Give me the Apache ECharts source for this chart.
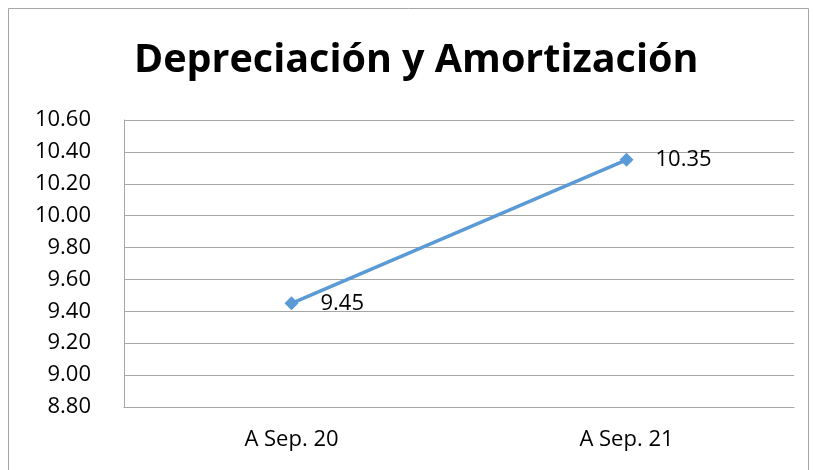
<!DOCTYPE html>
<html>
<head>
<meta charset="utf-8">
<script src="https://cdn.jsdelivr.net/npm/echarts@6/dist/echarts.min.js"></script>
<style>
  html, body { margin: 0; padding: 0; background: #fff; }
  #chart { width: 814px; height: 470px; }
</style>
</head>
<body>
<div id="chart"></div>
<script>
// datos del gráfico
const categorias = ['A Sep. 20', 'A Sep. 21']
const valores = [9.45, 10.35]
const titulo = 'Depreciación y Amortización'

const myChart = echarts.init(document.getElementById('chart'))

const options = {
  // marco exterior
  graphic: [
    {
      type: 'rect',
      shape: { x: 8.5, y: 8.5, width: 800, height: 480 },
      style: { fill: 'none', stroke: '#a6a6a6', lineWidth: 1 },
      silent: true
    }
  ],
  title: {
    text: titulo,
    left: 129,
    top: 36,
    textStyle: {
      fontFamily: 'Open Sans',
      fontWeight: 'bold',
      fontSize: 39.5,
      color: '#000'
    }
  },
  grid: {
    left: 124,
    right: 20,
    top: 120,
    bottom: 63
  },
  xAxis: {
    type: 'category',
    data: categorias,
    axisLine: { lineStyle: { color: '#a6a6a6', width: 1 } },
    axisTick: { show: false },
    axisLabel: {
      margin: 22,
      fontFamily: 'Open Sans',
      fontSize: 22,
      color: '#000'
    }
  },
  yAxis: {
    type: 'value',
    min: 8.8,
    max: 10.6,
    interval: 0.2,
    axisLine: { show: true, lineStyle: { color: '#a6a6a6', width: 1 } },
    axisTick: { show: false },
    splitLine: { lineStyle: { color: '#a6a6a6', width: 1 } },
    axisLabel: {
      margin: 33,
      fontFamily: 'Open Sans',
      fontSize: 22,
      color: '#000',
      formatter: (v) => v.toFixed(2)
    }
  },
  series: [
    {
      type: 'line',
      data: valores,
      symbol: 'diamond',
      symbolSize: 14,
      color: '#5b9bd5',
      lineStyle: { width: 3.5, color: '#5b9bd5' },
      itemStyle: { color: '#5b9bd5' },
      label: {
        show: true,
        position: 'right',
        distance: 22,
        fontFamily: 'Open Sans',
        fontSize: 22,
        color: '#000',
        formatter: (p) => p.value.toFixed(2)
      }
    }
  ]
}
myChart.setOption(options)
</script>
</body>
</html>
